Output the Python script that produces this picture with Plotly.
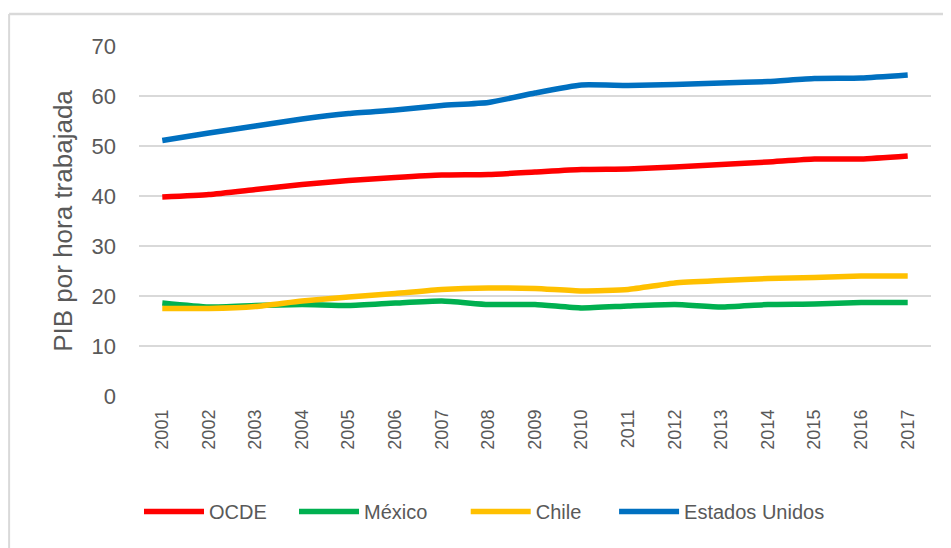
import plotly.graph_objects as go

years = [str(y) for y in range(2001, 2018)]
ocde = [39.8, 40.3, 41.3, 42.3, 43.1, 43.7, 44.2, 44.3, 44.8, 45.3, 45.4, 45.8, 46.3, 46.8, 47.4, 47.4, 48.0]
mexico = [18.6, 17.8, 18.1, 18.3, 18.1, 18.6, 19.0, 18.3, 18.3, 17.6, 18.0, 18.3, 17.8, 18.3, 18.4, 18.7, 18.7]
chile = [17.5, 17.5, 17.9, 19.0, 19.8, 20.5, 21.3, 21.6, 21.5, 21.0, 21.3, 22.6, 23.1, 23.5, 23.7, 24.0, 24.0]
usa = [51.1, 52.6, 54.0, 55.4, 56.5, 57.2, 58.1, 58.7, 60.6, 62.2, 62.1, 62.3, 62.6, 62.9, 63.5, 63.6, 64.2]

names = ["OCDE", "México", "Chile", "Estados Unidos"]
colors = ["#FF0000", "#00B050", "#FFC000", "#0070C0"]
values = [ocde, mexico, chile, usa]
pad = ["\u00a0" * 4, "\u00a0" * 6, "\u00a0" * 5, ""]

TXT = "#595959"
FONT = "Liberation Sans, Arial, sans-serif"

fig = go.Figure()
for name, vals, col, p in zip(names, values, colors, pad):
    fig.add_trace(go.Scatter(x=years, y=vals, name=name + p, mode="lines",
                             line=dict(color=col, width=5.5, shape="spline", smoothing=0.5)))

fig.update_layout(
    width=951, height=548,
    margin=dict(l=131, r=28, t=38, b=160),
    plot_bgcolor="white", paper_bgcolor="white",
    showlegend=True,
    legend=dict(orientation="h", x=0.0, xanchor="left", y=-0.33, yanchor="middle",
                font=dict(family=FONT, size=20, color=TXT), itemwidth=60,
                traceorder="normal"),
    xaxis=dict(type="category", range=[-0.5, 16.5], tickangle=-90, showgrid=False, showline=False,
               ticks="", ticklabelstandoff=9,
               tickfont=dict(family=FONT, size=18, color=TXT)),
    yaxis=dict(range=[0, 70], dtick=10, showgrid=True, gridcolor="#D9D9D9", gridwidth=2,
               zeroline=False, showline=False, ticks="", ticklabelstandoff=22,
               tickfont=dict(family=FONT, size=22, color=TXT)),
    shapes=[
        dict(type="line", xref="paper", yref="paper", x0=-0.164, x1=1.05, y0=1.0914, y1=1.0914,
             line=dict(color="#D9D9D9", width=2.5)),
        dict(type="line", xref="paper", yref="paper", x0=-0.164, x1=-0.164, y0=1.0914, y1=-0.46,
             line=dict(color="#D9D9D9", width=2)),
    ],
)
fig.update_yaxes(title=dict(text="PIB por hora trabajada", standoff=11,
                            font=dict(family=FONT, size=26, color=TXT)))

fig.write_html("out.html")
